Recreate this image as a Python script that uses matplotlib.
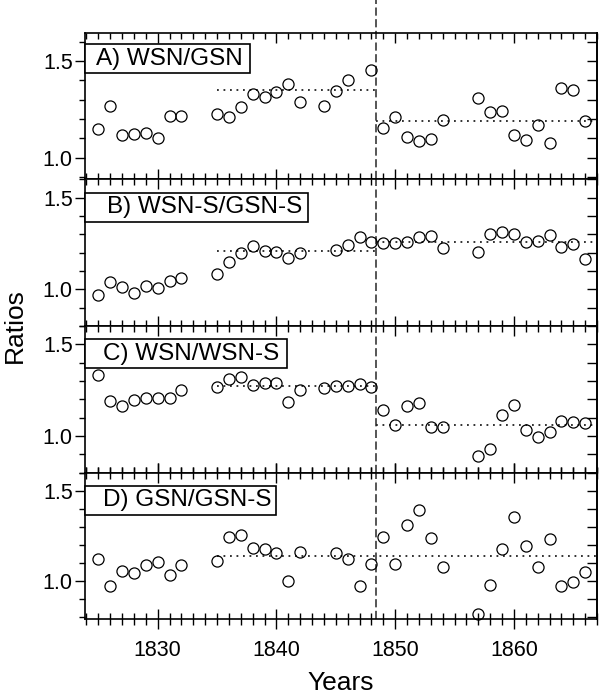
import matplotlib
matplotlib.use("Agg")
import matplotlib.pyplot as plt
from matplotlib.patches import Rectangle
from matplotlib.ticker import MultipleLocator, FormatStrFormatter

plt.rcParams['font.family'] = ['Liberation Sans', 'DejaVu Sans']

years = [1825, 1826, 1827, 1828, 1829, 1830, 1831, 1832,
         1835, 1836, 1837, 1838, 1839, 1840, 1841, 1842, 1844, 1845, 1846, 1848,
         1849, 1850, 1851, 1852, 1853, 1854, 1857, 1858, 1859, 1860, 1861, 1862,
         1863, 1864, 1865, 1866]

years_b = [1825, 1826, 1827, 1828, 1829, 1830, 1831, 1832,
           1835, 1836, 1837, 1838, 1839, 1840, 1841, 1842, 1845, 1846, 1847, 1848,
           1849, 1850, 1851, 1852, 1853, 1854, 1857, 1858, 1859, 1860, 1861, 1862,
           1863, 1864, 1865, 1866]

years_c = [1825, 1826, 1827, 1828, 1829, 1830, 1831, 1832,
           1835, 1836, 1837, 1838, 1839, 1840, 1841, 1842, 1844, 1845, 1846, 1847,
           1848, 1849, 1850, 1851, 1852, 1853, 1854, 1857, 1858, 1859, 1860, 1861,
           1862, 1863, 1864, 1865, 1866]

years_d = [1825, 1826, 1827, 1828, 1829, 1830, 1831, 1832,
           1835, 1836, 1837, 1838, 1839, 1840, 1841, 1842, 1845, 1846, 1847, 1848,
           1849, 1850, 1851, 1852, 1853, 1854, 1857, 1858, 1859, 1860, 1861, 1862,
           1863, 1864, 1865, 1866]

wsn_gsn = [1.149, 1.269, 1.115, 1.123, 1.128, 1.103, 1.217, 1.214,
           1.228, 1.211, 1.262, 1.330, 1.313, 1.339, 1.380, 1.286, 1.269, 1.342, 1.402, 1.452,
           1.151, 1.211, 1.108, 1.086, 1.094, 1.192, 1.307, 1.235, 1.240, 1.116, 1.089, 1.168,
           1.077, 1.360, 1.351, 1.188]

wsns_gsns = [0.971, 1.038, 1.011, 0.982, 1.016, 1.007, 1.044, 1.062,
             1.081, 1.150, 1.198, 1.234, 1.207, 1.205, 1.172, 1.198, 1.216, 1.242, 1.288, 1.258,
             1.253, 1.253, 1.256, 1.286, 1.293, 1.227, 1.201, 1.304, 1.313, 1.299, 1.260, 1.264,
             1.297, 1.231, 1.245, 1.163]

wsn_wsns = [1.331, 1.190, 1.163, 1.196, 1.209, 1.205, 1.209, 1.249,
            1.266, 1.310, 1.322, 1.277, 1.289, 1.288, 1.183, 1.251, 1.264, 1.273, 1.273, 1.286,
            1.266, 1.141, 1.057, 1.161, 1.181, 1.051, 1.051, 0.892, 0.927, 1.112, 1.168, 1.031,
            0.995, 1.022, 1.079, 1.077, 1.071]

gsn_gsns = [1.124, 0.975, 1.055, 1.045, 1.091, 1.104, 1.035, 1.091,
            1.111, 1.242, 1.253, 1.184, 1.180, 1.158, 1.002, 1.164, 1.156, 1.124, 0.976, 1.095,
            1.244, 1.093, 1.313, 1.393, 1.240, 1.080, 0.820, 0.978, 1.178, 1.355, 1.195, 1.076,
            1.231, 0.973, 0.996, 1.051]

labels = ['A) WSN/GSN', 'B) WSN-S/GSN-S', 'C) WSN/WSN-S', 'D) GSN/GSN-S']

# mean levels (dotted): (start year, end year, level)
means_a = [(1835, 1848.35, 1.351), (1848.35, 1867, 1.188)]
means_b = [(1835, 1848.35, 1.207), (1848.35, 1867, 1.258)]
means_c = [(1835, 1848.35, 1.271), (1848.35, 1867, 1.059)]
means_d = [(1835, 1867, 1.142)]

break_year = 1848.35
ylims = [(0.888, 1.646), (0.80, 1.60), (0.80, 1.60), (0.79, 1.60)]

panels = [(years, wsn_gsn, means_a), (years_b, wsns_gsns, means_b),
          (years_c, wsn_wsns, means_c), (years_d, gsn_gsns, means_d)]
box_right = [0.322, 0.436, 0.395, 0.373]   # axes fraction
text_x = [0.022, 0.042, 0.035, 0.035]

fig, axes = plt.subplots(4, 1, figsize=(6.0, 6.95), dpi=100, sharex=True)
fig.subplots_adjust(left=0.142, right=0.995, top=0.953, bottom=0.109, hspace=0)

for i, ax in enumerate(axes):
    x, y, means = panels[i]
    ax.plot(x, y, 'o', ms=8, mfc='none', mec='black', mew=0.9, clip_on=False, zorder=3)
    for x0, x1, lev in means:
        ax.plot([x0, x1], [lev, lev], color='#222222', lw=1.3,
                linestyle=(0, (1, 2.6)), zorder=2)
    top_ext = 1.0 + (32.7 / 146.6) if i == 0 else 1.0
    ax.axvline(break_year, ymin=0, ymax=top_ext, color='#555555', lw=1.4,
               linestyle=(0, (4.2, 1.8)), clip_on=False, zorder=1)

    ax.set_xlim(1823.9, 1867.0)
    ax.set_ylim(*ylims[i])
    ax.xaxis.set_major_locator(MultipleLocator(10))
    ax.xaxis.set_minor_locator(MultipleLocator(1))
    ax.yaxis.set_major_locator(MultipleLocator(0.5))
    ax.yaxis.set_minor_locator(MultipleLocator(0.1))
    ax.yaxis.set_major_formatter(FormatStrFormatter('%.1f'))

    xdir = 'inout' if i == 3 else 'in'
    xscale = 2 if i == 3 else 1
    ax.tick_params(axis='x', which='major', direction=xdir, top=True, bottom=True,
                   length=7 * xscale, width=1.0, labelsize=15.5, pad=8)
    ax.tick_params(axis='x', which='minor', direction=xdir, top=True, bottom=True,
                   length=4.5 * xscale, width=1.0)
    ax.tick_params(axis='y', which='major', direction='out', left=True, right=False,
                   length=7, width=1.0, labelsize=15.5, pad=2)
    ax.tick_params(axis='y', which='minor', direction='out', left=True, right=False,
                   length=4.5, width=1.0)

    sec = ax.secondary_yaxis('right')
    sec.yaxis.set_major_locator(MultipleLocator(0.1))
    sec.tick_params(axis='y', which='major', direction='in', length=7, width=1.0,
                    labelright=False)
    sec.spines['right'].set_linewidth(1.2)

    for sp in ax.spines.values():
        sp.set_linewidth(1.2)

    ax.add_patch(Rectangle((0, 0.71), box_right[i], 0.20, transform=ax.transAxes,
                           fill=True, facecolor='white', edgecolor='black', lw=1.2,
                           clip_on=False, zorder=4))
    ax.text(text_x[i], 0.81, labels[i], transform=ax.transAxes, fontsize=17.5,
            va='center', ha='left', zorder=5)

axes[0].patches[0].set_y(0.723)
axes[0].texts[0].set_y(0.823)

fig.text(0.025, 0.531, 'Ratios', rotation=90, fontsize=19, ha='center', va='center')
fig.text(0.568, 0.017, 'Years', fontsize=19, ha='center', va='center')

fig.savefig('out.png', dpi=100)
